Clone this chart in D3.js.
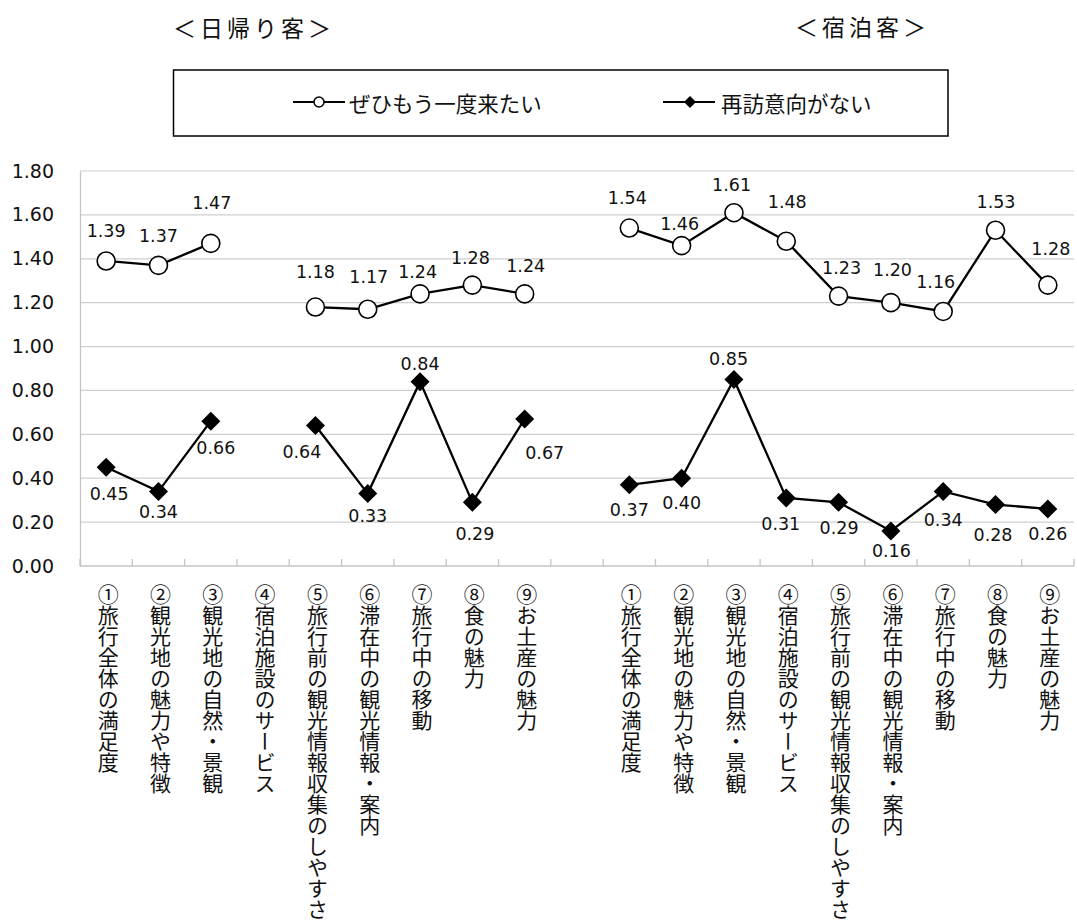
<!DOCTYPE html>
<html><head><meta charset="utf-8">
<script src="https://cdn.jsdelivr.net/npm/d3@7"></script>
<style>
html,body{margin:0;padding:0;background:#fff;}
svg{display:block;}
</style></head>
<body>
<svg id="c" width="1077" height="923"></svg>
<script>
// ---- data ----
const groupTitles = ["＜日帰り客＞", "＜宿泊客＞"];
const seriesNames = ["ぜひもう一度来たい", "再訪意向がない"];
const categories = ["①旅行全体の満足度","②観光地の魅力や特徴","③観光地の自然・景観","④宿泊施設のサービス","⑤旅行前の観光情報収集のしやすさ","⑥滞在中の観光情報・案内","⑦旅行中の移動","⑧食の魅力","⑨お土産の魅力"];
const dayAgain  = [1.39, 1.37, 1.47, null, 1.18, 1.17, 1.24, 1.28, 1.24];
const dayNo     = [0.45, 0.34, 0.66, null, 0.64, 0.33, 0.84, 0.29, 0.67];
const stayAgain = [1.54, 1.46, 1.61, 1.48, 1.23, 1.20, 1.16, 1.53, 1.28];
const stayNo    = [0.37, 0.40, 0.85, 0.31, 0.29, 0.16, 0.34, 0.28, 0.26];
const yTicks = [0, 0.2, 0.4, 0.6, 0.8, 1.0, 1.2, 1.4, 1.6, 1.8];

// label placement (dx, dy of label centre from its point)
const dayAgainLab  = [[0,-30],[0,-29.5],[1,-41],null,[0,-35],[1,-32.6],[-2.4,-22],[-2,-27.5],[1,-28]];
const dayNoLab     = [[3,26],[0,20],[5,26.5],null,[-13.5,26],[0,22],[0,-18],[2.5,31],[20,34]];
const stayAgainLab = [[-2,-30.5],[-2,-22],[-2.4,-28],[1,-39.6],[3,-28],[1.6,-33],[-7.5,-30],[0.5,-28.6],[3,-36]];
const stayNoLab    = [[0,25],[0,24.5],[-5.4,-21],[-5.5,26],[0.5,25],[0.5,20],[0,28.6],[-2.5,30],[0,25]];

// ---- layout ----
const svg = d3.select("#c");
const pL = 80, pR = 1074, pT = 171, pB = 566;
const nSlots = categories.length * 2 + 1;
const x = d3.scaleBand().domain(d3.range(nSlots)).range([pL, pR]).padding(0);
const y = d3.scaleLinear().domain([0, 1.8]).range([pB, pT]);
const numFont = "'DejaVu Sans', Verdana, sans-serif";
const jpFont = "'Noto Sans CJK JP', 'Noto Sans', sans-serif";

// grid
svg.append("g").selectAll("line").data(yTicks.filter(d => d > 0)).join("line")
  .attr("x1", pL).attr("x2", pR)
  .attr("y1", d => y(d)).attr("y2", d => y(d))
  .attr("stroke", "#cfcfcf").attr("stroke-width", 1.2);

// y axis
const yAxis = d3.axisLeft(y).tickValues(yTicks).tickFormat(d3.format(".2f")).tickSize(0).tickPadding(26);
const yg = svg.append("g").attr("transform", `translate(${pL},0)`).call(yAxis);
yg.select(".domain").attr("stroke", "#c4c4c4").attr("stroke-width", 1.3);
yg.selectAll("text").attr("font-family", numFont).attr("font-size", "19px").attr("fill", "#111");

// x axis line and ticks (inside, at band boundaries)
svg.append("line").attr("x1", pL).attr("x2", pR).attr("y1", pB).attr("y2", pB)
  .attr("stroke", "#c4c4c4").attr("stroke-width", 1.6);
svg.append("g").selectAll("line").data(d3.range(nSlots + 1)).join("line")
  .attr("x1", i => pL + i * x.bandwidth()).attr("x2", i => pL + i * x.bandwidth())
  .attr("y1", pB).attr("y2", pB - 7)
  .attr("stroke", "#c4c4c4").attr("stroke-width", 1.3);

// category labels (vertical)
const slotLabels = [...categories, "", ...categories];
svg.append("g").selectAll("text").data(slotLabels.map((t, i) => ({t, i})).filter(d => d.t)).join("text")
  .attr("x", d => x(d.i) + x.bandwidth() / 2 + 2)
  .attr("y", 584)
  .attr("style", "writing-mode: vertical-rl; text-orientation: mixed;")
  .attr("font-family", jpFont).attr("font-size", "21px").attr("fill", "#111")
  .text(d => d.t);

// series
function drawSeries(vals, offset, marker, labs) {
  const pts = vals.map((v, i) => ({v, slot: i + offset, lab: labs[i]}));
  const line = d3.line().defined(d => d.v != null)
    .x(d => x(d.slot) + x.bandwidth() / 2).y(d => y(d.v));
  svg.append("path").datum(pts).attr("d", line)
    .attr("fill", "none").attr("stroke", "#000").attr("stroke-width", 2.3);
  const valid = pts.filter(d => d.v != null);
  const g = svg.append("g");
  if (marker === "circle") {
    g.selectAll("circle").data(valid).join("circle")
      .attr("cx", d => x(d.slot) + x.bandwidth() / 2).attr("cy", d => y(d.v))
      .attr("r", 9).attr("fill", "#fff").attr("stroke", "#000").attr("stroke-width", 1.6);
  } else {
    const s = 9.5;
    g.selectAll("path").data(valid).join("path")
      .attr("d", d => {
        const cx = x(d.slot) + x.bandwidth() / 2, cy = y(d.v);
        return `M${cx},${cy - s}L${cx + s},${cy}L${cx},${cy + s}L${cx - s},${cy}Z`;
      })
      .attr("fill", "#000");
  }
  svg.append("g").selectAll("text").data(valid).join("text")
    .attr("x", d => x(d.slot) + x.bandwidth() / 2 + d.lab[0])
    .attr("y", d => y(d.v) + d.lab[1])
    .attr("dy", "0.36em")
    .attr("text-anchor", "middle")
    .attr("font-family", numFont).attr("font-size", "17.5px").attr("fill", "#111")
    .text(d => d3.format(".2f")(d.v));
}
drawSeries(dayAgain, 0, "circle", dayAgainLab);
drawSeries(dayNo, 0, "diamond", dayNoLab);
drawSeries(stayAgain, categories.length + 1, "circle", stayAgainLab);
drawSeries(stayNo, categories.length + 1, "diamond", stayNoLab);

// group titles
svg.append("text").attr("x", 173).attr("y", 27).attr("dominant-baseline", "central")
  .attr("font-family", jpFont).attr("font-size", "23px").attr("letter-spacing", "4px").attr("fill", "#111")
  .text(groupTitles[0]);
svg.append("text").attr("x", 795).attr("y", 26).attr("dominant-baseline", "central")
  .attr("font-family", jpFont).attr("font-size", "23px").attr("letter-spacing", "4px").attr("fill", "#111")
  .text(groupTitles[1]);

// legend
svg.append("rect").attr("x", 173.5).attr("y", 70).attr("width", 948 - 173.5).attr("height", 66)
  .attr("fill", "none").attr("stroke", "#000").attr("stroke-width", 1.5);
const ly = 102;
svg.append("line").attr("x1", 293).attr("x2", 345).attr("y1", ly).attr("y2", ly).attr("stroke", "#000").attr("stroke-width", 2.2);
svg.append("circle").attr("cx", 319).attr("cy", ly).attr("r", 5).attr("fill", "#fff").attr("stroke", "#000").attr("stroke-width", 1.5);
svg.append("text").attr("x", 349).attr("y", ly).attr("dominant-baseline", "central")
  .attr("font-family", jpFont).attr("font-size", "21.5px").attr("fill", "#111").text(seriesNames[0]);
svg.append("line").attr("x1", 663).attr("x2", 715).attr("y1", ly).attr("y2", ly).attr("stroke", "#000").attr("stroke-width", 2.2);
svg.append("path").attr("d", `M690,${ly-6}L696,${ly}L690,${ly+6}L684,${ly}Z`).attr("fill", "#000");
svg.append("text").attr("x", 721).attr("y", ly).attr("dominant-baseline", "central")
  .attr("font-family", jpFont).attr("font-size", "21.5px").attr("fill", "#111").text(seriesNames[1]);
</script>
</body></html>
